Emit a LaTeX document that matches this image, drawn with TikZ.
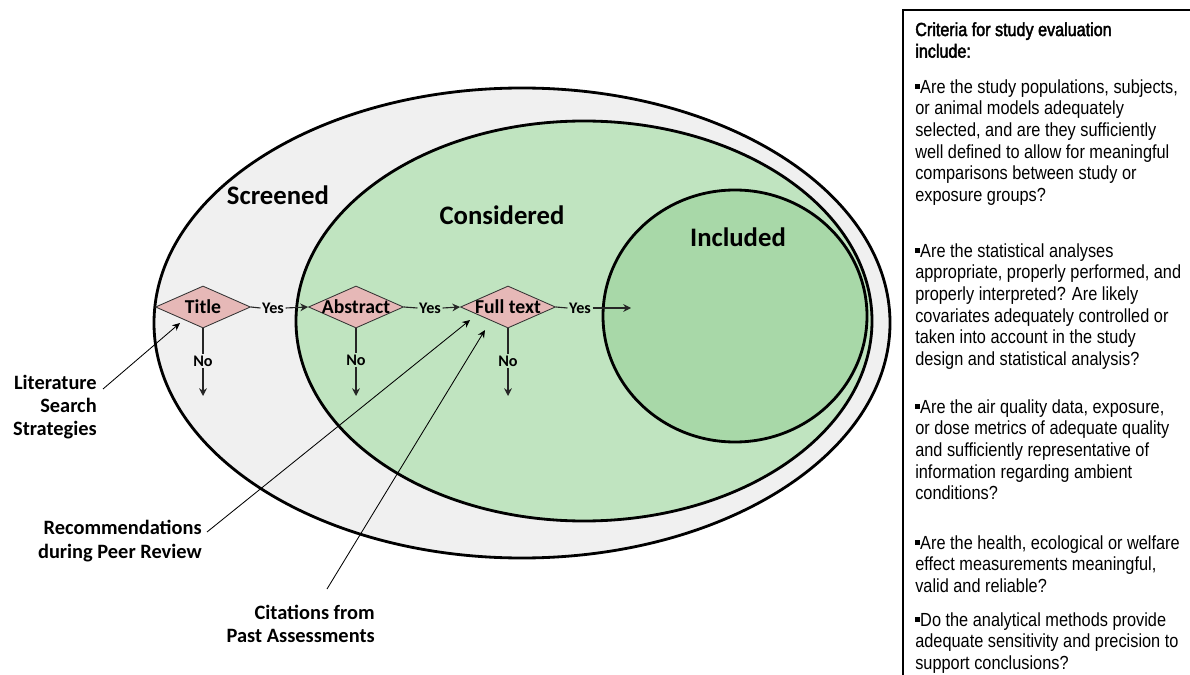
\documentclass[tikz,border=0pt]{standalone}
\usepackage{fontspec}
\setmainfont{Carlito}
\newfontfamily\narrowfont[FakeStretch=0.86]{Liberation Sans}
\newfontfamily\narrowheadfont[FakeStretch=0.85, FakeBold=2.2]{Liberation Sans}
\usepackage{xcolor}
\usetikzlibrary{positioning, arrows.meta, shapes.geometric}

\definecolor{screengray}{HTML}{F0F0F0}
\definecolor{considgreen}{HTML}{C0E4C0}
\definecolor{inclgreen}{HTML}{A8D8A8}
\definecolor{decpink}{HTML}{E6B8B7}

\newcommand{\sqbullet}{\raisebox{0.22em}{\rule{0.26em}{0.26em}}}

\tikzset{
  decision/.style={diamond, draw=black!80, fill=decpink, line width=0.6pt,
    inner sep=0pt, aspect=2.26, minimum width=2.375cm, minimum height=1.05cm,
    font=\fontsize{14}{16}\selectfont\bfseries},
  setlabel/.style={font=\fontsize{19}{22}\selectfont\bfseries},
  answer/.style={font=\fontsize{11.5}{13}\selectfont\bfseries, inner sep=1pt},
  flow/.style={line width=0.8pt, black!85},
  flowarrow/.style={flow, -{Stealth[length=5.5pt, width=5.5pt]}},
  source/.style={font=\fontsize{14.5}{16.5}\selectfont\bfseries, align=right, inner sep=0pt},
  feed/.style={line width=0.6pt, -{Stealth[length=5.5pt, width=5pt]}},
  criteria/.style={font=\narrowfont\fontsize{13.5}{15.4}\selectfont, align=left,
    anchor=north west, inner sep=0pt},
}

\begin{document}
\begin{tikzpicture}[x=0.025cm, y=-0.025cm]
    \useasboundingbox (0,0) rectangle (1190,675);

    % Nested sets of studies
    \draw[line width=2pt, fill=screengray] (522,323) ellipse (368 and 235);
    \draw[line width=2pt, fill=considgreen] (584,321) ellipse (288 and 200);
    \draw[line width=2pt, fill=inclgreen] (735,316) ellipse (132 and 126);

    \node[setlabel] (screened) at (278,195) {Screened};
    \node[setlabel] (considered) at (502,215) {Considered};
    \node[setlabel] (included) at (738,237) {Included};

    % Screening steps
    \node[decision] (title) at (203,307) {\makebox[0pt]{Title}};
    \node[decision] (abstract) at (356,307) {\makebox[0pt]{Abstract}};
    \node[decision] (fulltext) at (508,307) {\makebox[0pt]{Full text}};

    \node[answer] (yes1) at (273,308) {Yes};
    \node[answer] (yes2) at (430,308) {Yes};
    \node[answer] (yes3) at (580,308) {Yes};
    \coordinate (toincluded) at (631,308);

    \draw[flow] (title.east) -- (yes1.west);
    \draw[flowarrow] (yes1.east) -- (abstract.west);
    \draw[flow] (abstract.east) -- (yes2.west);
    \draw[flowarrow] (yes2.east) -- (fulltext.west);
    \draw[flow] (fulltext.east) -- (yes3.west);
    \draw[flowarrow] (yes3.east) -- (toincluded);

    % Rejected at each step
    \node[answer] (no1) at (203,361) {No};
    \node[answer] (no2) at (356,360) {No};
    \node[answer] (no3) at (508,361) {No};
    \coordinate (out1) at (203,396);
    \coordinate (out2) at (356,396);
    \coordinate (out3) at (508,396);

    \draw[flow] (title.south) -- (no1.north);
    \draw[flowarrow] (no1.south) -- (out1);
    \draw[flow] (abstract.south) -- (no2.north);
    \draw[flowarrow] (no2.south) -- (out2);
    \draw[flow] (fulltext.south) -- (no3.north);
    \draw[flowarrow] (no3.south) -- (out3);

    % Sources of studies
    \node[source, anchor=east] (litsearch) at (97,407) {Literature\\Search\\Strategies};
    \node[source, anchor=east] (peerreview) at (202,541) {Recommendations\\during Peer Review};
    \node[source, anchor=east] (pastassess) at (375,624) {Citations from\\Past Assessments};

    \coordinate (litstart) at (103,389);
    \coordinate (peerstart) at (207,532);
    \coordinate (paststart) at (327,589);
    \coordinate (titlein) at (180,323);
    \coordinate (peerin) at (470,320);
    \coordinate (pastin) at (485,330);

    \draw[feed] (litstart) -- (titlein);
    \draw[feed] (peerstart) -- (peerin);
    \draw[feed] (paststart) -- (pastin);

    % Evaluation criteria
    \draw[line width=1.5pt] (903,10) rectangle (1205,676);
    \node[criteria, font=\narrowheadfont\fontsize{13.5}{15.4}\selectfont] (crithead) at (915,22)
        {Criteria for study evaluation\\include:};
    \node[criteria] (crit1) at (915,79)
        {\sqbullet Are the study populations, subjects,\\or animal models adequately\\selected, and are they sufficiently\\well defined to allow for meaningful\\comparisons between study or\\exposure groups?};
    \node[criteria] (crit2) at (915,243)
        {\sqbullet Are the statistical analyses\\appropriate, properly performed, and\\properly interpreted? Are likely\\covariates adequately controlled or\\taken into account in the study\\design and statistical analysis?};
    \node[criteria] (crit3) at (915,399)
        {\sqbullet Are the air quality data, exposure,\\or dose metrics of adequate quality\\and sufficiently representative of\\information regarding ambient\\conditions?};
    \node[criteria] (crit4) at (915,535)
        {\sqbullet Are the health, ecological or welfare\\effect measurements meaningful,\\valid and reliable?};
    \node[criteria] (crit5) at (915,612)
        {\sqbullet Do the analytical methods provide\\adequate sensitivity and precision to\\support conclusions?};
\end{tikzpicture}
\end{document}
